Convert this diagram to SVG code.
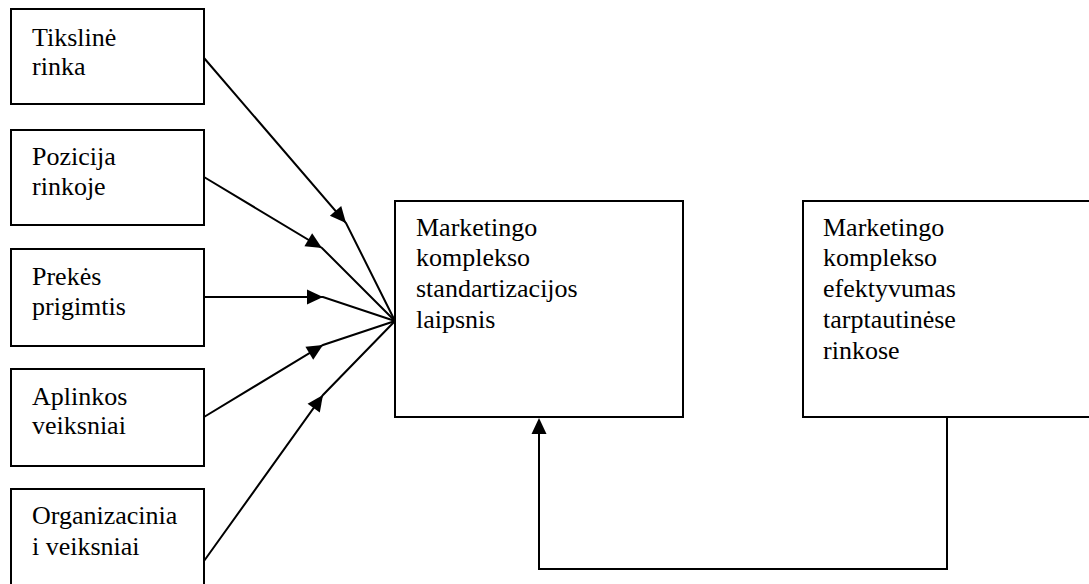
<svg xmlns="http://www.w3.org/2000/svg" xmlns:xlink="http://www.w3.org/1999/xlink" width="1089" height="584" viewBox="0 0 1089 584">
  <style>
    .box { fill: #ffffff; stroke: #000000; stroke-width: 2; }
    .label { font-family: "Liberation Serif", "Times New Roman", serif; font-size: 26px; fill: #000000; }
    .conn { fill: none; stroke: #000000; stroke-width: 2; }
    .head { fill: #000000; stroke: none; }
  </style>
  <defs>
    <!-- filled triangular arrowhead, tip at the origin, pointing along +x -->
    <path id="ah" class="head" d="M0,0 L-16,-7.5 L-16,7.5 Z"/>
  </defs>

  <rect width="1089" height="584" fill="#ffffff"/>

  <!-- factor boxes -->
  <g id="tiksline-rinka">
    <rect class="box" x="11" y="9" width="193" height="95"/>
    <text class="label" x="32" y="46">Tikslinė</text>
    <text class="label" x="32" y="75">rinka</text>
  </g>
  <g id="pozicija-rinkoje">
    <rect class="box" x="11" y="130" width="193" height="95"/>
    <text class="label" x="32" y="165">Pozicija</text>
    <text class="label" x="32" y="195">rinkoje</text>
  </g>
  <g id="prekes-prigimtis">
    <rect class="box" x="11" y="249" width="193" height="97"/>
    <text class="label" x="32" y="285">Prekės</text>
    <text class="label" x="32" y="315">prigimtis</text>
  </g>
  <g id="aplinkos-veiksniai">
    <rect class="box" x="11" y="369" width="193" height="97"/>
    <text class="label" x="32" y="405">Aplinkos</text>
    <text class="label" x="32" y="434">veiksniai</text>
  </g>
  <g id="organizaciniai-veiksniai">
    <rect class="box" x="11" y="489" width="193" height="110"/>
    <text class="label" x="32" y="524">Organizacinia</text>
    <text class="label" x="32" y="555">i veiksniai</text>
  </g>

  <!-- standardisation degree -->
  <g id="standartizacijos-laipsnis">
    <rect class="box" x="395" y="201" width="288" height="216"/>
    <text class="label" x="416" y="236">Marketingo</text>
    <text class="label" x="416" y="266">komplekso</text>
    <text class="label" x="416" y="297">standartizacijos</text>
    <text class="label" x="416" y="328">laipsnis</text>
  </g>

  <!-- effectiveness in international markets -->
  <g id="efektyvumas">
    <rect class="box" x="803" y="201" width="300" height="216"/>
    <text class="label" x="823" y="236">Marketingo</text>
    <text class="label" x="823" y="266">komplekso</text>
    <text class="label" x="823" y="297">efektyvumas</text>
    <text class="label" x="823" y="328">tarptautinėse</text>
    <text class="label" x="823" y="359">rinkose</text>
  </g>

  <!-- connectors: each factor line carries its arrowhead partway, then joins at the box edge -->
  <g id="connectors">
    <path class="conn" d="M204,58 L346,223 L395,321"/>
    <use xlink:href="#ah" href="#ah" transform="translate(346,223) rotate(49.3)"/>
    <path class="conn" d="M204,177 L322,248 L395,321"/>
    <use xlink:href="#ah" href="#ah" transform="translate(322,248) rotate(31)"/>
    <path class="conn" d="M204,297 L323,297 L395,321"/>
    <use xlink:href="#ah" href="#ah" transform="translate(323,297)"/>
    <path class="conn" d="M204,417 L323,345 L395,321"/>
    <use xlink:href="#ah" href="#ah" transform="translate(323,345) rotate(-31.2)"/>
    <path class="conn" d="M204,561 L323,395 L395,321"/>
    <use xlink:href="#ah" href="#ah" transform="translate(323,395) rotate(-54.4)"/>
    <!-- feedback loop -->
    <path class="conn" d="M947,417 L947,569 L539,569 L539,425"/>
    <use xlink:href="#ah" href="#ah" transform="translate(539,418) rotate(-90)"/>
  </g>
</svg>
